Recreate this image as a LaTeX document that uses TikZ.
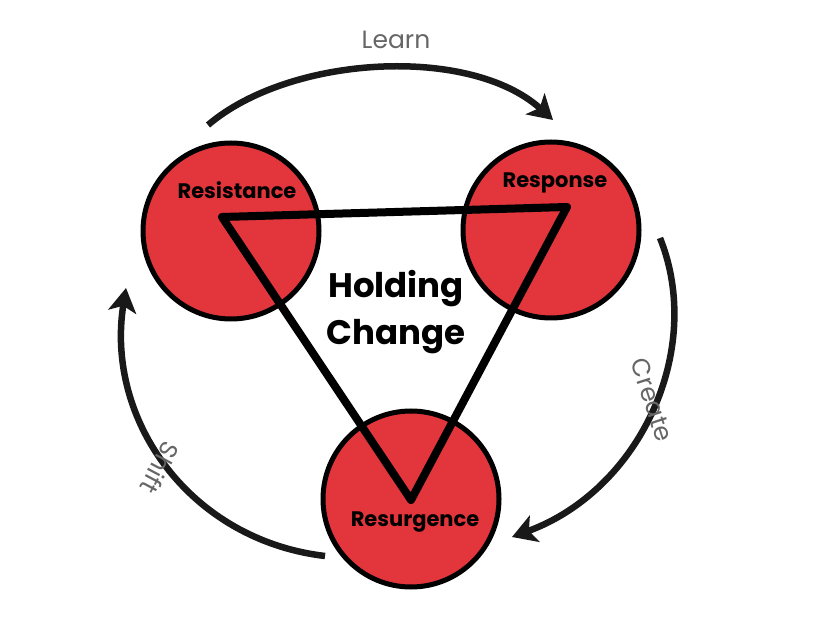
\documentclass[tikz,border=0pt]{standalone}
\usepackage{fontspec}
\setmainfont{Poppins}
\usepackage{tikz}
\usetikzlibrary{arrows.meta, calc}
\definecolor{ringred}{HTML}{E2353C}
\definecolor{labelgray}{HTML}{666666}
\tikzset{
  stage/.style={circle, draw=black, line width=5pt, fill=ringred, minimum size=176pt, inner sep=0pt},
  stagetext/.style={font=\fontsize{21}{24}\selectfont\bfseries, text=black},
  cycle/.style={line width=6.5pt, draw=black!90, -{Stealth[length=24pt, width=28pt, inset=6pt]}},
  cyclelabel/.style={font=\fontsize{25}{28}\selectfont, text=labelgray}
}
\begin{document}
\begin{tikzpicture}[x=1pt, y=-1pt]
\useasboundingbox (0,0) rectangle (814,617);

% Stages
\node (resist) [stage] at (231,231) {};
\node (respon) [stage] at (551,230) {};
\node (resurg) [stage] at (411,499) {};

% Triangle
\coordinate (ta) at (222,217);
\coordinate (tb) at (567,207);
\coordinate (tc) at (411,500);
\draw [line width=8pt, line join=round] (ta) -- (tb) -- (tc) -- cycle;

% Labels
\node (lresist) [stagetext] at (237,190) {Resistance};
\node (lrespon) [stagetext] at (555,183) {Response};
\node (lresurg) [stagetext] at (415,522) {Resurgence};
\node (centre) [font=\fontsize{34}{47}\selectfont\bfseries, align=center] at (396,312) {Holding\\Change};

% Cycle arrows
\coordinate (learnA) at (208,125);
\coordinate (learnB) at (553,120);
\draw [cycle] (learnA) .. controls (290,55) and (470,45) .. (learnB);
\node (learn) [cyclelabel] at (396,40) {Learn};

\coordinate (createA) at (660,238);
\coordinate (createB) at (512,537);
\draw [cycle] (createA) .. controls (705,350) and (640,490) .. (createB);
\node (create) [cyclelabel, rotate=-72] at (652,400) {Create};

\coordinate (shiftA) at (325,556);
\coordinate (shiftB) at (126,288);
\draw [cycle] (shiftA) .. controls (190,540) and (105,420) .. (shiftB);
\node (shift) [cyclelabel, rotate=-118] at (160,468) {Shift};
\end{tikzpicture}
\end{document}
